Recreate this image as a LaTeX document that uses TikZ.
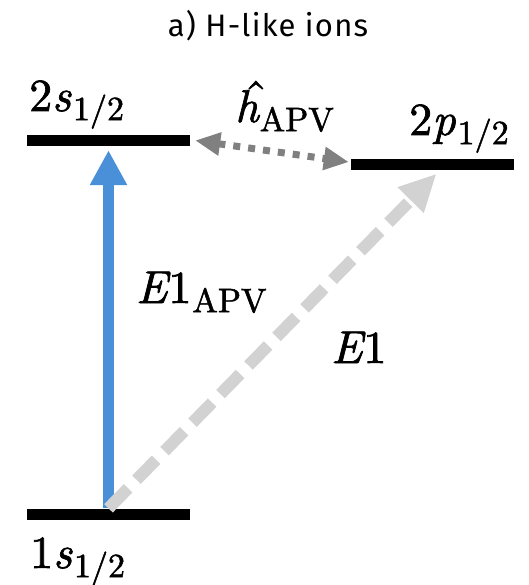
\documentclass[tikz,border=0pt]{standalone}
\usepackage{fontspec}
\newfontfamily\titlefont{Fira Sans}[LetterSpace=4]
\newfontface\lblrm{lmroman10-regular.otf}[FakeBold=1.5]
\newfontface\lblit{lmroman10-italic.otf}[FakeBold=1.5]
\usetikzlibrary{arrows.meta}
\definecolor{apvblue}{RGB}{74,144,217}
\definecolor{eonegray}{RGB}{210,210,210}
\definecolor{hgray}{RGB}{128,128,128}
% subscript text, set smaller and lowered
\newcommand\lblsub[1]{\raisebox{-0.2em}{\fontsize{34}{36}\selectfont\lblrm #1}}
% upright part, italic part, subscript
\newcommand\symlabel[3]{{\lblrm #1}{\lblit #2}\kern2pt\lblsub{#3}}
\begin{document}
\begin{tikzpicture}[x=1pt,y=-1pt,
  levelbar/.style={fill=black, draw=none, minimum width=163pt, minimum height=11pt, inner sep=0pt},
  lbl/.style={anchor=base west, inner sep=0pt, font=\fontsize{46}{50}\selectfont},
]
\useasboundingbox (0,0) rectangle (528,585);

% title
\node[anchor=base, inner sep=0pt, font=\titlefont\fontsize{31}{34}\selectfont] (title) at (268,37) {a) H-like ions};

% energy levels
\node[levelbar] (l2s) at (108.5,140.5) {};
\node[levelbar] (l2p) at (432.5,165) {};
\node[levelbar] (l1s) at (108.5,514) {};

% level labels
\node[lbl] (t2s) at (29,111) {\symlabel{2}{s}{1/2}};
\node[lbl] (t2p) at (409,135) {\symlabel{2}{p}{1/2}};
\node[lbl] (t1s) at (30,568) {\symlabel{1}{s}{1/2}};

% transitions
\draw[line width=11pt, apvblue, -{Triangle[length=35pt,width=35pt]}]
  (l1s.north) -- ([yshift=-4pt]l2s.south);
\draw[line width=12pt, eonegray, dash pattern=on 28pt off 12pt, -{Triangle[length=37pt,width=34pt]}]
  (l1s.north) -- ([xshift=4pt,yshift=-3pt]l2p.south);
\draw[line width=7pt, hgray, dash pattern=on 7pt off 8pt,
  {Triangle[length=25pt,width=22pt]}-{Triangle[length=25pt,width=22pt]}]
  ([xshift=5pt]l2s.east) -- ([xshift=-2pt,yshift=3pt]l2p.west);

% transition labels
\node[lbl] (tE1apv) at (136,303) {{\lblit E}\kern1pt{\lblrm 1}\kern1pt\lblsub{APV}};
\node[lbl] (tE1) at (331,363) {{\lblit E}\kern1pt{\lblrm 1}};
\node[lbl] (th) at (235,122)
  {\rlap{\kern0.2em\raisebox{0.2em}{\lblrm\char"02C6}}{\lblit h}\kern1pt\lblsub{APV}};
\end{tikzpicture}
\end{document}
